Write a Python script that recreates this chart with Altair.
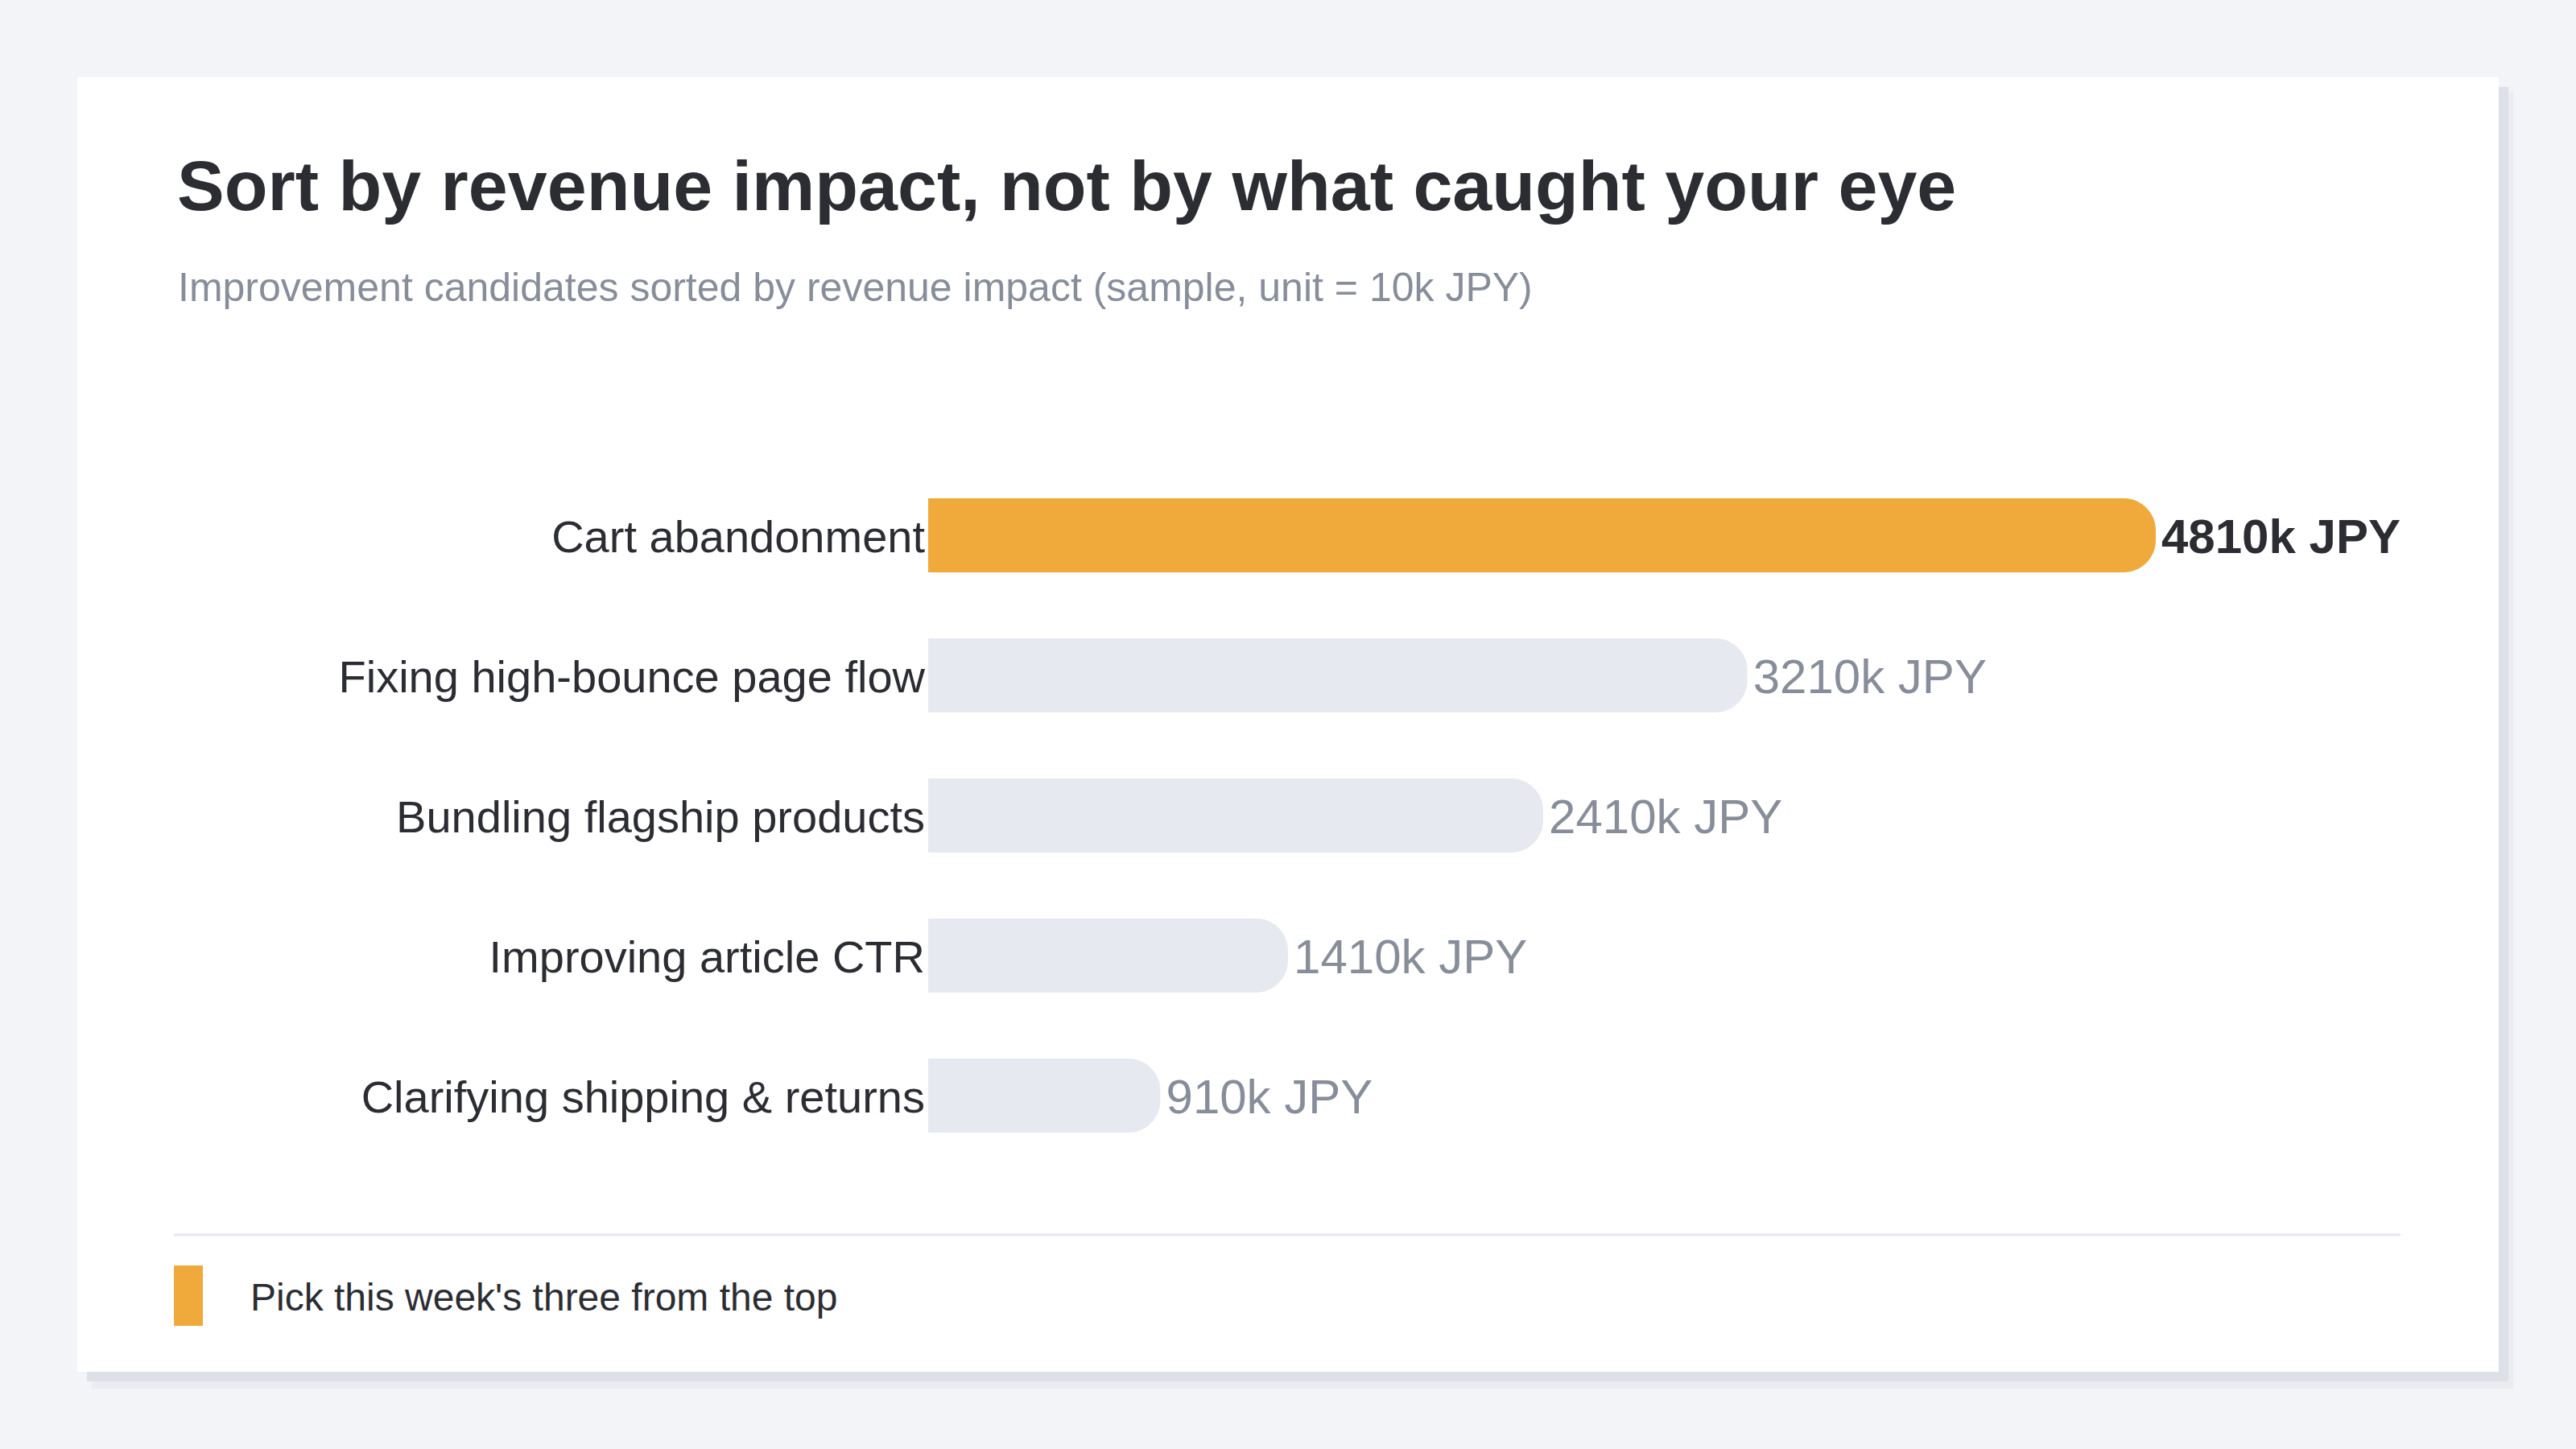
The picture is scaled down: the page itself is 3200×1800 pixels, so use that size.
import altair as alt
import pandas as pd

# ---- data ----
CATEGORIES = [
    "Cart abandonment",
    "Fixing high-bounce page flow",
    "Bundling flagship products",
    "Improving article CTR",
    "Clarifying shipping & returns",
]
VALUES = [481, 321, 241, 141, 91]  # unit = 10k JPY
TITLE = ["Sort by revenue impact, not by what caught your eye"]
SUBTITLE = ["Improvement candidates sorted by revenue impact (sample, unit = 10k JPY)"]
NOTE = ["Pick this week's three from the top"]

# ---- styles ----
FONT = "Liberation Sans"
ORANGE = "#F0AA3C"
GRAY_BAR = "#E6E9F0"
DARK = "#2B2D33"
MUTED = "#878E9A"
PAGE_BG = "#F3F4F8"

df = pd.DataFrame({"category": CATEGORIES, "value": VALUES})
df["rank"] = df["value"].rank(ascending=False, method="first").astype(int)

xscale = alt.Scale(domain=[0, max(VALUES)], range=[1153, 2678], nice=False, zero=True)
yscale = alt.Scale(domain=CATEGORIES, range=[578, 1448], paddingInner=0.471, paddingOuter=0.2355)

base = alt.Chart(df).transform_calculate(
    label="format(datum.value * 10, 'd') + 'k JPY'",
    tier="datum.rank == 1 ? 'top' : 'rest'",
)

Y = alt.Y("category:N", sort=CATEGORIES, scale=yscale, axis=None)

bars = base.mark_bar(cornerRadiusEnd=40).encode(
    x=alt.X("value:Q", scale=xscale, axis=None),
    y=Y,
    color=alt.Color("tier:N", scale=alt.Scale(domain=["top", "rest"], range=[ORANGE, GRAY_BAR]), legend=None),
)

cat_labels = base.mark_text(align="right", baseline="middle", dx=-4, dy=4, font=FONT, fontSize=56, color=DARK).encode(
    x=alt.datum(0),
    y=Y,
    text="category:N",
)

val_top = base.transform_filter("datum.rank == 1").mark_text(
    align="left", baseline="middle", dx=7, dy=4, font=FONT, fontSize=60, fontWeight="bold", color=DARK
).encode(x="value:Q", y=Y, text="label:N")

val_rest = base.transform_filter("datum.rank != 1").mark_text(
    align="left", baseline="middle", dx=7, dy=4, font=FONT, fontSize=60, color=MUTED
).encode(x="value:Q", y=Y, text="label:N")

# ---- card decoration ----
one = pd.DataFrame({"k": [0]})
fringe = alt.Chart(one).mark_rect(color="#EAECF1").encode(
    x=alt.value(114), x2=alt.value(3122), y=alt.value(114), y2=alt.value(1725))
shadow = alt.Chart(one).mark_rect(color="#DDE0E7").encode(
    x=alt.value(108), x2=alt.value(3116), y=alt.value(108), y2=alt.value(1716))
card = alt.Chart(one).mark_rect(color="#FFFFFF").encode(
    x=alt.value(96), x2=alt.value(3104), y=alt.value(96), y2=alt.value(1704))
divider = alt.Chart(one).mark_rule(color="#E6E8EE", strokeWidth=3).encode(
    x=alt.value(216), x2=alt.value(2982), y=alt.value(1534))
swatch = alt.Chart(one).mark_rect(color=ORANGE).encode(
    x=alt.value(216), x2=alt.value(252), y=alt.value(1572), y2=alt.value(1647))

title = alt.Chart(pd.DataFrame({"t": TITLE})).mark_text(
    align="left", baseline="alphabetic", font=FONT, fontSize=88, fontWeight="bold", color=DARK
).encode(x=alt.value(220), y=alt.value(261), text="t:N")
subtitle = alt.Chart(pd.DataFrame({"t": SUBTITLE})).mark_text(
    align="left", baseline="alphabetic", font=FONT, fontSize=50, color=MUTED
).encode(x=alt.value(221), y=alt.value(374), text="t:N")
note = alt.Chart(pd.DataFrame({"t": NOTE})).mark_text(
    align="left", baseline="alphabetic", font=FONT, fontSize=48, color=DARK
).encode(x=alt.value(311), y=alt.value(1628), text="t:N")

chart = alt.layer(
    fringe, shadow, card, divider, swatch, title, subtitle, bars, cat_labels, val_top, val_rest, note
).properties(
    width=3200, height=1800, autosize=alt.AutoSizeParams(type="none"), padding=0, background=PAGE_BG
).configure_view(stroke=None)

chart.save("out.html", embed_options={"renderer": "svg", "actions": False})
